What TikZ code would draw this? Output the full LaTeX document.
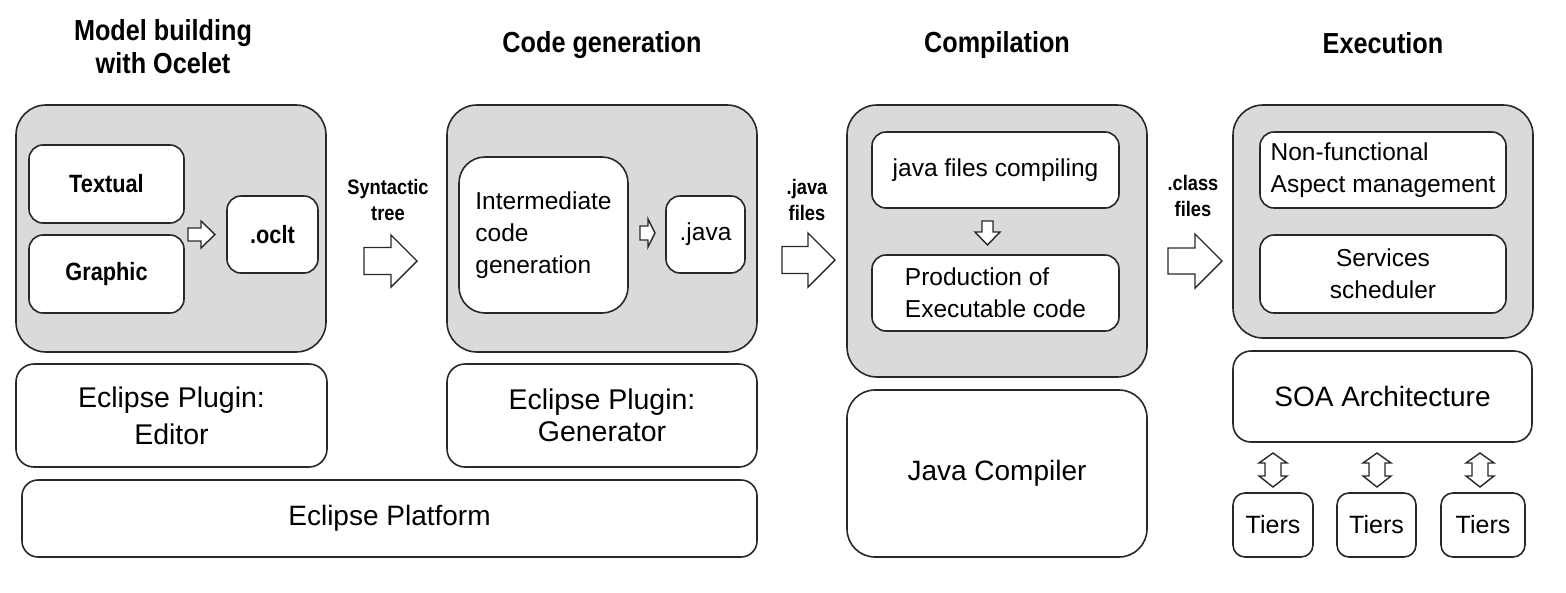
\documentclass[tikz,border=0pt]{standalone}
\usepackage{fontspec}
\setmainfont{Liberation Sans}
\newfontfamily\condfont{Liberation Sans}[FakeStretch=0.87]
\definecolor{grayfill}{RGB}{218,218,218}
\definecolor{lc}{RGB}{40,40,40}
\newcommand\RBlk[6]{\draw[blk] (#1,#4-#5) -- (#2,#4-#5) -- (#2,#4-#6) -- (#3,#4) -- (#2,#4+#6) -- (#2,#4+#5) -- (#1,#4+#5) -- cycle;}
\newcommand\DBlk[6]{\draw[blk] (#1-#5,#2) -- (#1+#5,#2) -- (#1+#5,#3) -- (#1+#6,#3) -- (#1,#4) -- (#1-#6,#3) -- (#1-#5,#3) -- cycle;}
\newcommand\VDbl[7]{\draw[blk] (#1,#2) -- (#1+#7,#3) -- (#1+#6,#3) -- (#1+#6,#4) -- (#1+#7,#4) -- (#1,#5) -- (#1-#7,#4) -- (#1-#6,#4) -- (#1-#6,#3) -- (#1-#7,#3) -- cycle;}
\begin{document}
\begin{tikzpicture}[x=1pt,y=-1pt,
  bx/.style={draw=lc, line width=1.6pt, fill=white, rounded corners=14pt, inner sep=0pt, align=center, font=\fontsize{24.5}{32}\selectfont},
  grp/.style={draw=lc, line width=1.6pt, fill=grayfill, rounded corners=30pt, inner sep=0pt},
  ttl/.style={font=\condfont\bfseries\fontsize{29}{33}\selectfont, align=center, inner sep=0pt},
  lbl/.style={font=\condfont\bfseries\fontsize{21}{26}\selectfont, align=center, inner sep=0pt},
  btx/.style={font=\condfont\bfseries\fontsize{25}{28}\selectfont},
  blk/.style={draw=lc, line width=1.4pt, fill=white, line join=miter}]
\useasboundingbox (0,0) rectangle (1566,592);

% titles
\node[ttl] (t1) at (163,47) {Model building\\with Ocelet};
\node[ttl] (t2) at (602,45) {Code generation};
\node[ttl] (t3) at (997,45) {Compilation};
\node[ttl] (t4) at (1383,43) {Execution};

% column 1
\node[grp, minimum width=310pt, minimum height=247pt] (g1) at (171,228.5) {};
\node[bx, btx, minimum width=155pt, minimum height=78pt] (textual) at (106.5,184) {Textual};
\node[bx, btx, minimum width=155pt, minimum height=78pt] (graphic) at (106.5,274) {Graphic};
\node[bx, btx, minimum width=91pt, minimum height=77pt] (oclt) at (272.5,234.5) {.oclt};
\node[bx, rounded corners=18pt, minimum width=311pt, minimum height=103pt, font=\fontsize{28.5}{37}\selectfont] (editor) at (171.5,415.5) {Eclipse Plugin:\\Editor};

% column 2
\node[grp, minimum width=310pt, minimum height=247pt] (g2) at (602,228.5) {};
\node[bx, rounded corners=26pt, minimum width=169pt, minimum height=156pt, align=left] (inter) at (543.5,235) {Intermediate\\code\\generation};
\node[bx, minimum width=79pt, minimum height=77pt] (java) at (705.5,234.5) {.java};
\node[bx, rounded corners=18pt, minimum width=310pt, minimum height=103pt, font=\fontsize{28.5}{32}\selectfont] (generator) at (602,415.5) {Eclipse Plugin:\\Generator};

\node[bx, rounded corners=16pt, minimum width=735pt, minimum height=77pt, font=\fontsize{28}{34}\selectfont] (platform) at (389.5,518.5) {Eclipse Platform};

% column 3
\node[grp, minimum width=300pt, minimum height=272pt] (g3) at (997,241) {};
\node[bx, minimum width=247pt, minimum height=76pt] (compiling) at (995.5,170) {java files compiling};
\node[bx, minimum width=247pt, minimum height=76pt, align=left] (production) at (995.5,293) {Production of\\Executable code};
\node[bx, rounded corners=28pt, minimum width=300pt, minimum height=167pt, font=\fontsize{28}{34}\selectfont] (jcomp) at (997,473.5) {Java Compiler};

% column 4
\node[grp, minimum width=300pt, minimum height=233pt] (g4) at (1383,221.5) {};
\node[bx, minimum width=246pt, minimum height=76pt, align=left] (nonfunc) at (1383,170) {Non-functional\\Aspect management};
\node[bx, minimum width=246pt, minimum height=78pt] (services) at (1383,274) {Services\\scheduler};
\node[bx, rounded corners=18pt, minimum width=299pt, minimum height=91pt, font=\fontsize{28}{34}\selectfont] (soa) at (1382.5,396.5) {SOA Architecture};
\node[bx, rounded corners=12pt, minimum width=80pt, minimum height=64pt, font=\fontsize{25}{30}\selectfont] (tiers1) at (1273,525) {Tiers};
\node[bx, rounded corners=12pt, minimum width=79pt, minimum height=64pt, font=\fontsize{25}{30}\selectfont] (tiers2) at (1376.5,525) {Tiers};
\node[bx, rounded corners=12pt, minimum width=84pt, minimum height=64pt, font=\fontsize{25}{30}\selectfont] (tiers3) at (1483,525) {Tiers};

% labels
\node[lbl] (lsyn) at (388,200) {Syntactic\\tree};
\node[lbl] (ljava) at (807,200) {.java\\files};
\node[lbl] (lclass) at (1193,196) {.class\\files};

% big block arrows
\RBlk{364}{391}{417}{261}{13.5}{26}
\RBlk{782}{808}{835}{260}{13.5}{27}
\RBlk{1168}{1195}{1222}{261}{13}{27}

% small arrows
\RBlk{188}{201}{215}{234.5}{6.5}{13.5}
\RBlk{640}{648}{655}{233}{7}{14}
\DBlk{987.5}{221}{232}{245}{5.5}{12.5}
\VDbl{1273}{453}{463}{476}{487}{8}{14}
\VDbl{1377}{453}{463}{476}{487}{8}{14}
\VDbl{1480}{453}{463}{476}{487}{8}{14}
\end{tikzpicture}
\end{document}
